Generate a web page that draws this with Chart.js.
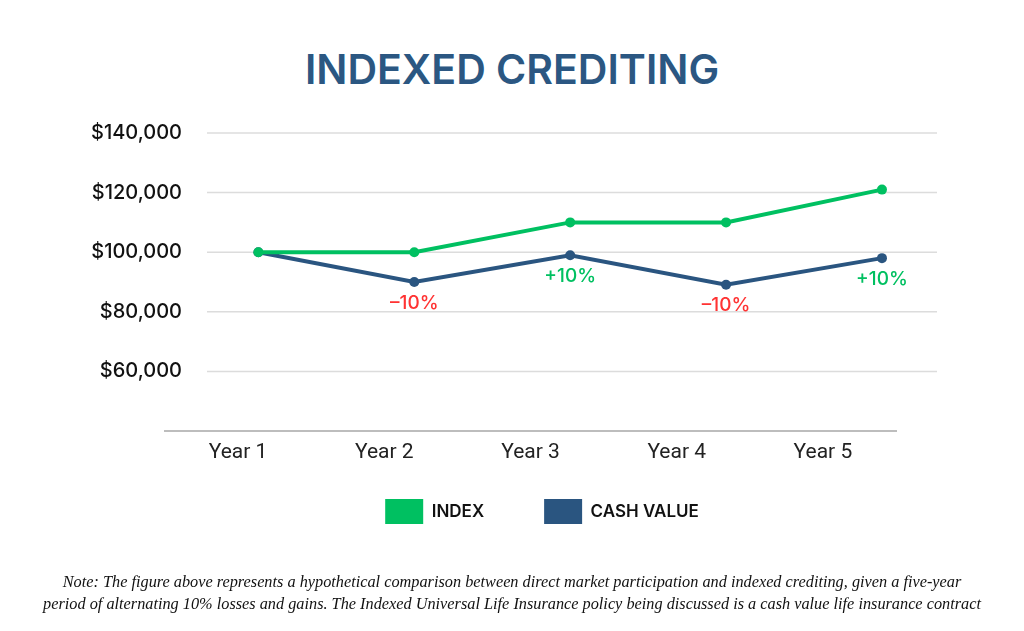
<!DOCTYPE html>
<html>
<head>
<meta charset="utf-8">
<title>Indexed Crediting</title>
<script src="https://cdn.jsdelivr.net/npm/chart.js@4"></script>
<style>
  body { margin: 0; background: #fff; }
  #wrap { position: relative; width: 1024px; height: 631px; overflow: hidden; }
  #chart { position: absolute; left: 0; top: 0; }
  h1 { position: absolute; left: 0; top: 49px; width: 1024px; margin: 0; text-align: center;
       font: 600 41px/1 Inter, sans-serif; color: #2b5782; }
  .note { position: absolute; left: 0; top: 571px; width: 1024px; margin: 0; text-align: center;
          font: italic 16.3px/22px "Liberation Serif", serif; color: #111; }
</style>
</head>
<body>
<div id="wrap">
  <h1>INDEXED CREDITING</h1>
  <canvas id="chart" width="1024" height="631"></canvas>
  <p class="note">Note: The figure above represents a hypothetical comparison between direct market participation and indexed crediting, given a five-year<br>period of alternating 10% losses and gains. The Indexed Universal Life Insurance policy being discussed is a cash value life insurance contract</p>
</div>
<script>
const years = ['Year 1', 'Year 2', 'Year 3', 'Year 4', 'Year 5'];
const yearNums = [1, 2, 3, 4, 5];
const indexValues = [100000, 100000, 110000, 110000, 121000];
const cashValues = [100000, 90000, 99000, 89100, 98010];
const changeLabels = ['', '–10%', '+10%', '–10%', '+10%'];
const yTicks = [60000, 80000, 100000, 120000, 140000];

const green = '#00c061';
const blue = '#2a5580';
const red = '#ff3333';

const money = v => '$' + v.toLocaleString('en-US');
const yFont = '500 20px Inter';

// widest y label, so the mirrored labels can be right-aligned just past the axis
const mctx = document.createElement('canvas').getContext('2d');
mctx.font = yFont;
const widestY = Math.max(...yTicks.map(v => mctx.measureText(money(v)).width));

// horizontal guide lines, wider than the plot like in the original
const gridLines = {
  id: 'gridLines',
  beforeDatasetsDraw(chart) {
    const {ctx, chartArea, scales: {y}} = chart;
    ctx.save();
    ctx.strokeStyle = '#dcdcdc';
    ctx.lineWidth = 1.5;
    y.ticks.forEach(t => {
      const py = y.getPixelForValue(t.value);
      ctx.beginPath();
      ctx.moveTo(chartArea.left + 42, py);
      ctx.lineTo(chartArea.right + 41, py);
      ctx.stroke();
    });
    ctx.restore();
  }
};

// -10% / +10% under the cash value points
const changeText = {
  id: 'changeText',
  afterDatasetsDraw(chart) {
    const {ctx} = chart;
    const pts = chart.getDatasetMeta(1).data;
    ctx.save();
    ctx.font = '500 19px Inter';
    ctx.textAlign = 'center';
    ctx.textBaseline = 'middle';
    changeLabels.forEach((t, i) => {
      if (!t) return;
      ctx.fillStyle = t.startsWith('+') ? green : red;
      ctx.fillText(t, pts[i].x, pts[i].y + 21);
    });
    ctx.restore();
  }
};

const toPoints = vals => yearNums.map((x, i) => ({x: x, y: vals[i]}));

const data = {
  labels: years,
  datasets: [
    {
      label: 'INDEX',
      data: toPoints(indexValues),
      borderColor: green,
      backgroundColor: green,
      pointBackgroundColor: green,
      borderWidth: 4,
      pointRadius: 5,
      pointBorderWidth: 0,
      xAxisID: 'xv',
      yAxisID: 'y'
    },
    {
      label: 'CASH VALUE',
      data: toPoints(cashValues),
      borderColor: blue,
      backgroundColor: blue,
      pointBackgroundColor: blue,
      borderWidth: 4,
      pointRadius: 5,
      pointBorderWidth: 0,
      xAxisID: 'xv',
      yAxisID: 'y'
    }
  ]
};

const config = {
  type: 'line',
  data: data,
  plugins: [gridLines, changeText],
  options: {
    responsive: false,
    animation: false,
    layout: { padding: { left: 60, right: 0, top: 133, bottom: 97 } },
    plugins: {
      tooltip: { enabled: false },
      legend: {
        position: 'bottom',
        labels: {
          boxWidth: 38,
          boxHeight: 25,
          padding: 60,
          color: '#111',
          font: { family: 'Inter', size: 17, weight: '600' },
          generateLabels: chart => Chart.defaults.plugins.legend.labels.generateLabels(chart)
            .map(l => Object.assign(l, { lineWidth: 0 }))
        }
      }
    },
    scales: {
      x: {
        type: 'category',
        offset: true,
        grid: { display: false, drawTicks: false },
        border: { color: '#bdbdbd', width: 2 },
        // mirrored only to avoid label clipping; negative padding puts them below the line
        ticks: { mirror: true, color: '#222', padding: -34, font: { family: 'Roboto', size: 21 } },
        afterFit: s => { s.height = 8; }
      },
      xv: { type: 'linear', display: false, min: 0.401, max: 5.09 },
      y: {
        type: 'linear',
        min: 40000,
        max: 140000,
        grid: { display: false, drawTicks: false },
        border: { display: false },
        afterBuildTicks: s => { s.ticks = yTicks.map(v => ({ value: v })); },
        ticks: {
          mirror: true,
          crossAlign: 'far',
          padding: 17 - widestY,
          color: '#111',
          font: { family: 'Inter', size: 20, weight: '500' },
          callback: v => money(v)
        },
        afterFit: s => { s.width = 105; }
      },
      yr: {
        type: 'linear',
        position: 'right',
        grid: { display: false, drawTicks: false },
        border: { display: false },
        ticks: { display: false },
        afterFit: s => { s.width = 128; }
      }
    }
  }
};

const chart = new Chart(document.getElementById('chart').getContext('2d'), config);
</script>
</body>
</html>
